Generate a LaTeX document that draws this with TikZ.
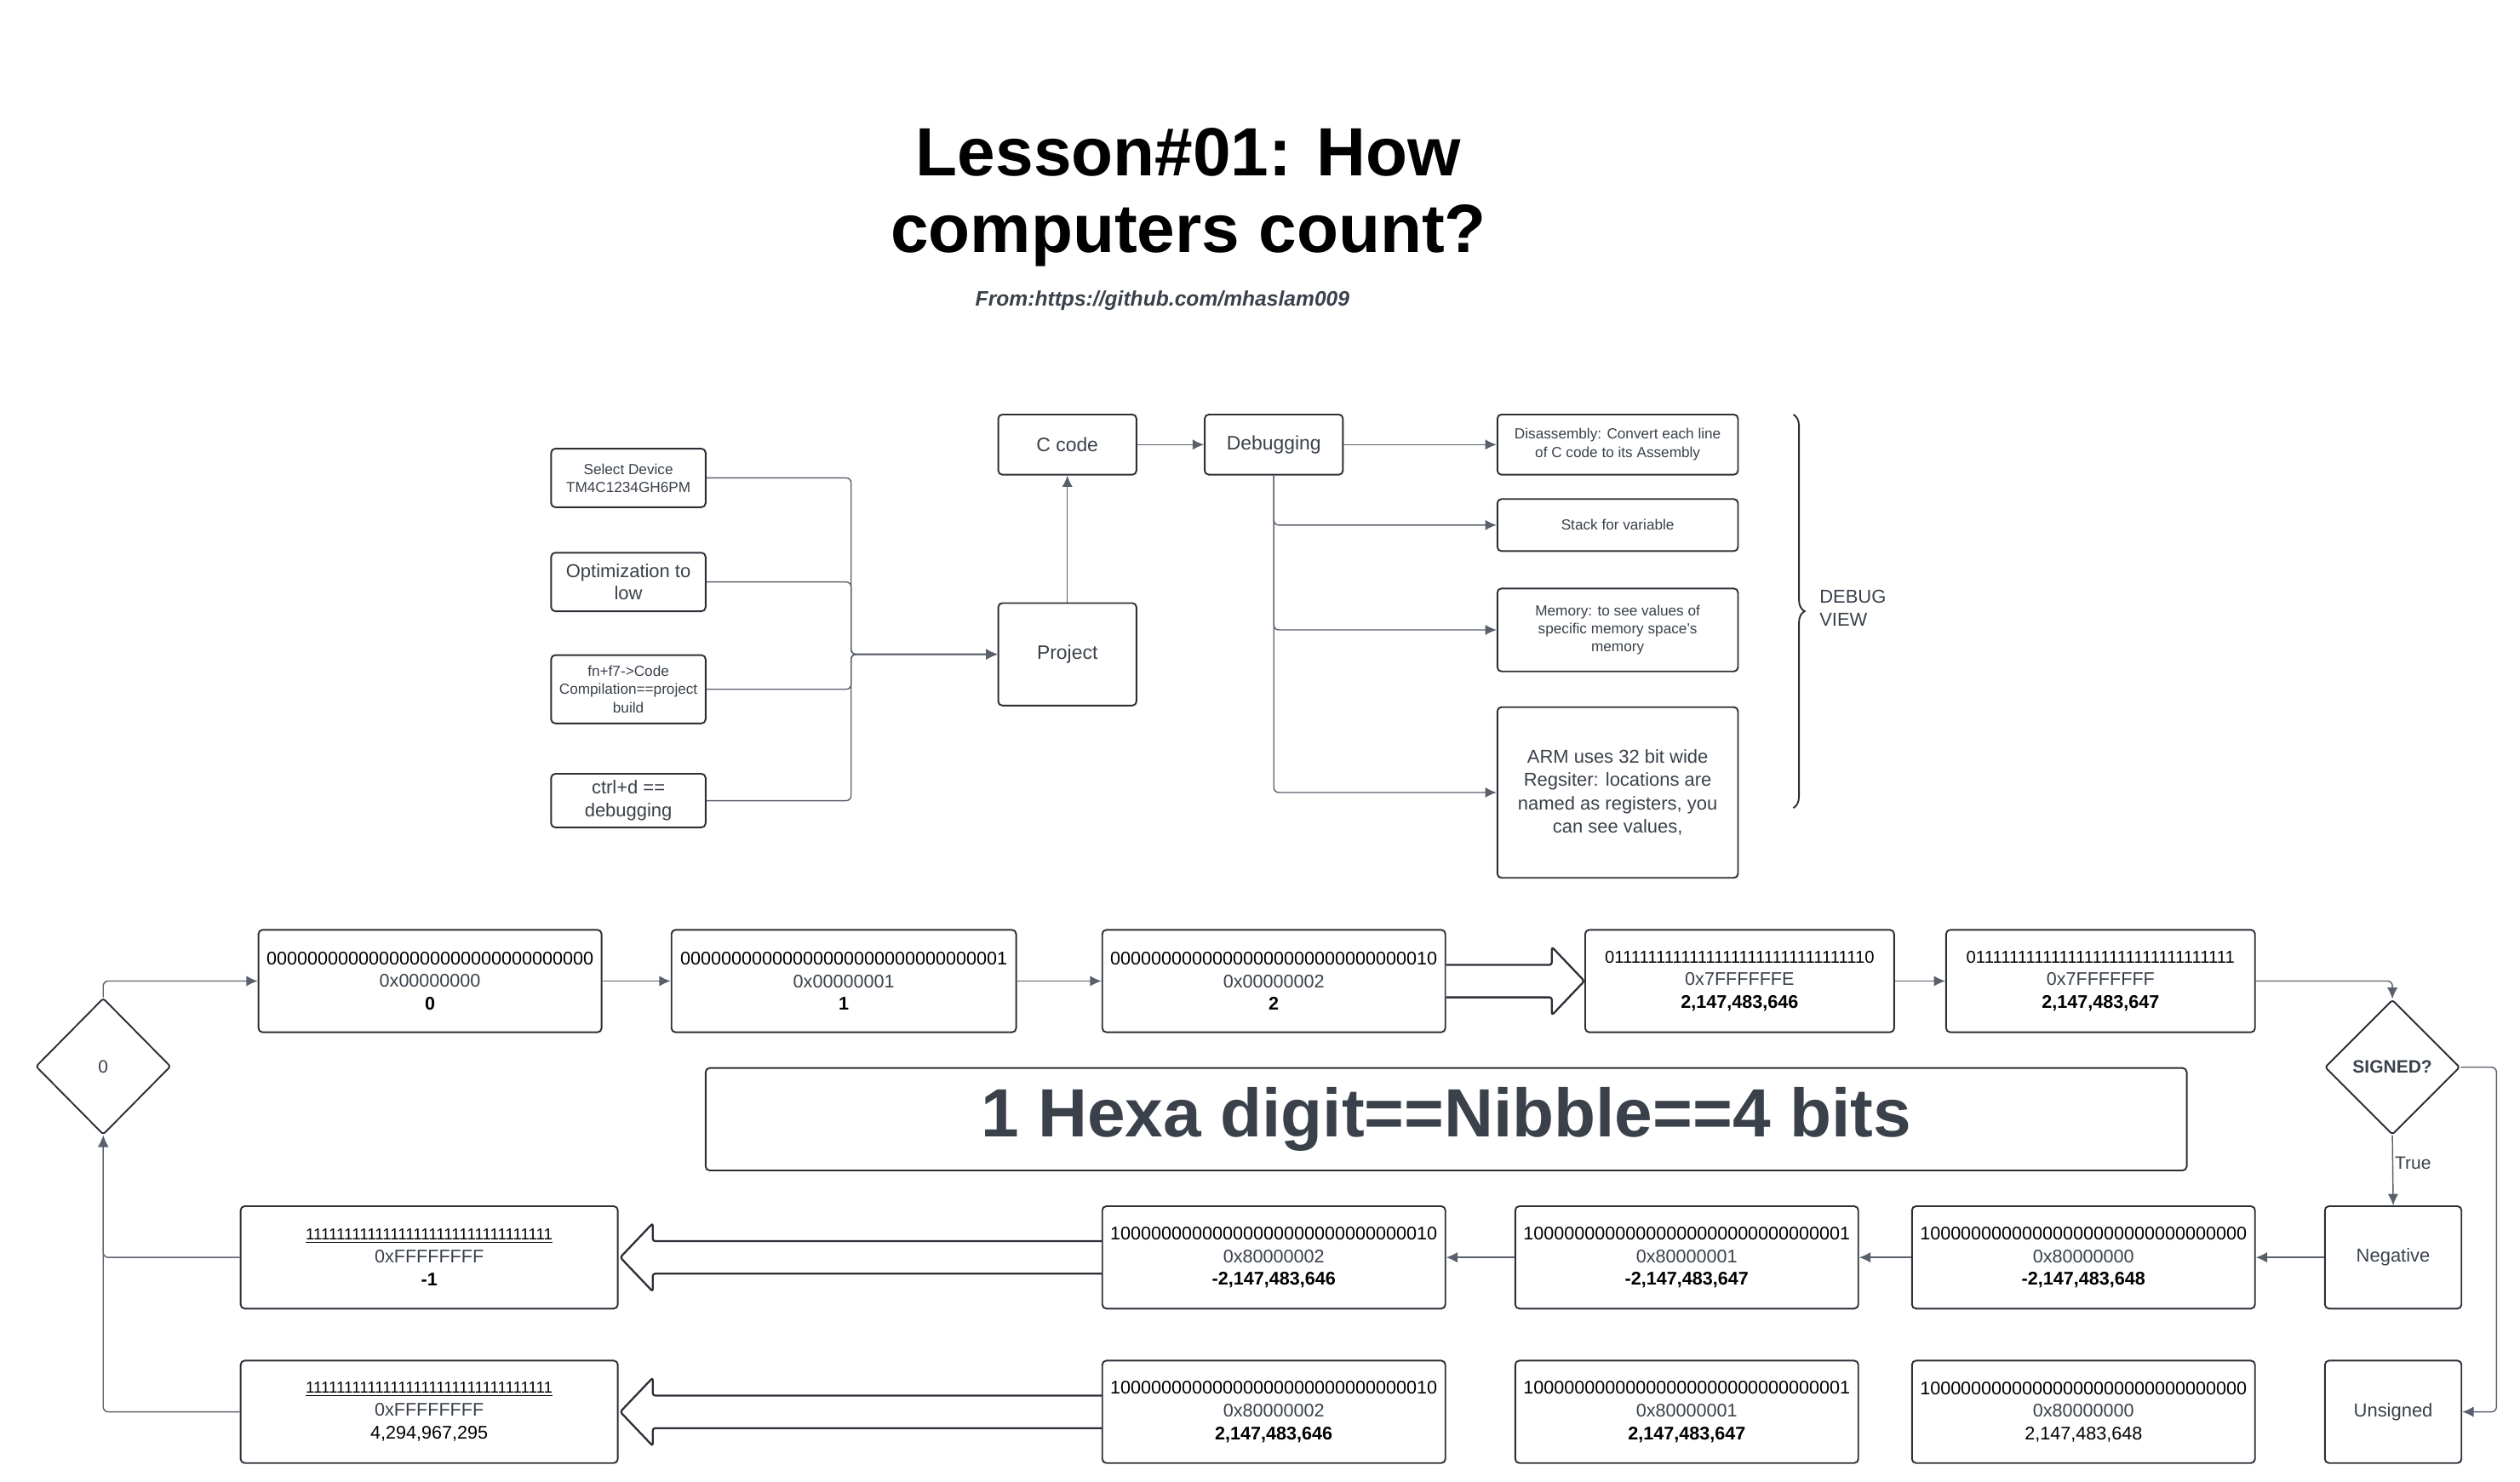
\documentclass[tikz,border=0pt]{standalone}
\usepackage{fontspec}
\setmainfont{Liberation Sans}
\usetikzlibrary{arrows.meta,shapes.geometric,calc,decorations.pathreplacing}
\definecolor{boxc}{HTML}{2B2F36}
\definecolor{linec}{HTML}{5A606B}
\definecolor{txt}{HTML}{3A414A}
\newcommand{\fs}[2]{\fontsize{#1}{#2}\selectfont}
\newcommand{\hexl}[1]{{\color{txt}#1}}
\begin{document}
\begin{tikzpicture}[x=1pt,y=-1pt,
  box/.style={draw=boxc, line width=1pt, rounded corners=2.5pt, fill=white, align=center, inner sep=0pt, text=txt},
  numbox/.style={draw=boxc, line width=1pt, rounded corners=2.5pt, fill=white, align=center, inner sep=0pt, text=black, minimum height=63pt, font=\fs{11.3}{14}},
  dia/.style={draw=boxc, line width=1pt, diamond, rounded corners=1.5pt, inner sep=0pt, minimum width=83pt, minimum height=84pt, text=txt, fill=white},
  conn/.style={draw=linec, line width=0.75pt, rounded corners=3pt, -{Latex[length=7pt,width=6.5pt]}},
  bigarr/.style={draw=boxc, line width=1.2pt, rounded corners=1.5pt, fill=white, line join=round}
]
\useasboundingbox (0,0) rectangle (1550,911.15);

% ---------- title ----------
\node[anchor=base, font=\bfseries\fs{42}{48}] (t1) at (731,108) {Lesson\#01: How};
\node[anchor=base, font=\bfseries\fs{42}{48}] (t2) at (731,155) {computers count?};
\node[anchor=base, font=\bfseries\itshape\fs{12.9}{15}, text=txt] (from) at (715,188) {From:https://github.com/mhaslam009};

% ---------- top flow ----------
\node[box, minimum width=95pt, minimum height=36pt, font=\fs{9}{11}] (sel) at (386.5,294) {Select Device\\TM4C1234GH6PM};
\node[box, minimum width=95pt, minimum height=36pt, font=\fs{11.5}{14}] (opt) at (386.5,358) {Optimization to\\low};
\node[box, minimum width=95pt, minimum height=42pt, font=\fs{9}{11.3}] (fn) at (386.5,424) {fn+f7->Code\\Compilation==project\\build};
\node[box, minimum width=95pt, minimum height=33pt, font=\fs{11.5}{14}] (ctrl) at (386.5,492.5) {ctrl+d ==\\debugging};
\node[box, minimum width=85pt, minimum height=63pt, font=\fs{12}{14}] (proj) at (656.5,402.5) {Project};
\node[box, minimum width=85pt, minimum height=37pt, font=\fs{12}{14}] (ccode) at (656.5,273.5) {C code};
\node[box, minimum width=85pt, minimum height=37pt, font=\fs{12}{14}] (dbg) at (783.5,273.5) {Debugging};
\node[box, minimum width=148pt, minimum height=37pt, font=\fs{9}{11.3}] (dis) at (995,273.5) {Disassembly: Convert each line\\of C code to its Assembly};
\node[box, minimum width=148pt, minimum height=32pt, font=\fs{9}{11.3}] (stack) at (995,323) {Stack for variable};
\node[box, minimum width=148pt, minimum height=51pt, font=\fs{9}{11}] (mem) at (995,387.5) {Memory: to see values of\\specific memory space's\\memory};
\node[box, minimum width=148pt, minimum height=105pt, font=\fs{11.5}{14.3}] (arm) at (995,487.5) {ARM uses 32 bit wide\\Regsiter: locations are\\named as registers, you\\can see values,};

\coordinate (jn) at ($(proj.west)+(-90,0)$);
\draw[conn] (sel.east) -| (jn) -- (proj.west);
\draw[conn] (opt.east) -| (jn) -- (proj.west);
\draw[conn] (fn.east) -| (jn) -- (proj.west);
\draw[conn] (ctrl.east) -| (jn) -- (proj.west);
\draw[conn] (proj.north) -- (ccode.south);
\draw[conn] (ccode.east) -- (dbg.west);
\draw[conn] (dbg.east) -- (dis.west);
\draw[conn] (dbg.south) |- (stack.west);
\draw[conn] (dbg.south) |- (mem.west);
\draw[conn] (dbg.south) |- (arm.west);

\draw[boxc, line width=1pt, decorate, decoration={brace, amplitude=7pt}] (1103,255) -- (1103,497);
\node[anchor=west, align=left, font=\fs{11.5}{14}, text=txt, inner sep=0pt] (dv) at (1119,374) {DEBUG\\VIEW};

% ---------- counting rows ----------
\node[numbox, minimum width=211pt] (B0) at (264.5,603.5) {00000000000000000000000000000000\\\hexl{0x00000000}\\\textbf{0}};
\node[numbox, minimum width=212pt] (B1) at (519,603.5) {00000000000000000000000000000001\\\hexl{0x00000001}\\\textbf{1}};
\node[numbox, minimum width=211pt] (B2) at (783.5,603.5) {00000000000000000000000000000010\\\hexl{0x00000002}\\\textbf{2}};
\node[numbox, minimum width=190pt] (B3) at (1070,603.5) {{\fs{10.6}{14}01111111111111111111111111111110}\\\hexl{0x7FFFFFFE}\\\textbf{2,147,483,646}};
\node[numbox, minimum width=190pt] (B4) at (1292,603.5) {{\fs{10.6}{14}01111111111111111111111111111111}\\\hexl{0x7FFFFFFF}\\\textbf{2,147,483,647}};

\node[dia, font=\fs{11}{13}] (d0) at (63.5,656) {0};
\node[dia, font=\bfseries\fs{11}{13}, minimum height=83pt] (sig) at (1471.5,656.5) {SIGNED?};

\node[box, minimum width=911pt, minimum height=63pt, font=\bfseries\fs{42}{48}] (nib) at (889.5,688.5) {1 Hexa digit==Nibble==4 bits};

\node[box, minimum width=84pt, minimum height=63pt, font=\fs{11.5}{14}] (neg) at (1472,773.5) {Negative};
\node[numbox, minimum width=211pt] (N0) at (1281.5,773.5) {10000000000000000000000000000000\\\hexl{0x80000000}\\\textbf{-2,147,483,648}};
\node[numbox, minimum width=211pt] (N1) at (1037.5,773.5) {10000000000000000000000000000001\\\hexl{0x80000001}\\\textbf{-2,147,483,647}};
\node[numbox, minimum width=211pt] (N2) at (783.5,773.5) {10000000000000000000000000000010\\\hexl{0x80000002}\\\textbf{-2,147,483,646}};
\node[numbox, minimum width=232pt] (M1) at (264,773.5) {{\fs{9.8}{14}\underline{11111111111111111111111111111111}}\\\hexl{0xFFFFFFFF}\\\textbf{-1}};

\node[box, minimum width=84pt, minimum height=63pt, font=\fs{11.5}{14}] (uns) at (1472,868.5) {Unsigned};
\node[numbox, minimum width=211pt] (U0) at (1281.5,868.5) {10000000000000000000000000000000\\\hexl{0x80000000}\\2,147,483,648};
\node[numbox, minimum width=211pt] (U1) at (1037.5,868.5) {10000000000000000000000000000001\\\hexl{0x80000001}\\\textbf{2,147,483,647}};
\node[numbox, minimum width=211pt] (U2) at (783.5,868.5) {10000000000000000000000000000010\\\hexl{0x80000002}\\\textbf{2,147,483,646}};
\node[numbox, minimum width=232pt] (M2) at (264,868.5) {{\fs{9.8}{14}\underline{11111111111111111111111111111111}}\\\hexl{0xFFFFFFFF}\\4,294,967,295};

% connectors
\draw[conn] (d0.north) |- (B0.west);
\draw[conn] (B0.east) -- (B1.west);
\draw[conn] (B1.east) -- (B2.west);
\draw[conn] (B3.east) -- (B4.west);
\draw[conn] (B4.east) -| (sig.north);
\draw[conn] (sig.south) -- node[pos=0.4, anchor=west, inner sep=1pt, font=\fs{11}{13}, text=txt] {True} (neg.north);
\draw[conn] (sig.east) -- ++(22,0) |- (uns.east);
\draw[conn] (neg.west) -- (N0.east);
\draw[conn] (N0.west) -- (N1.east);
\draw[conn] (N1.west) -- (N2.east);
\draw[conn] (M1.west) -| (d0.south);
\draw[conn] (M2.west) -| (d0.south);

% big block arrows
\draw[bigarr] ($(B2.east)+(0,-10)$) -- ($(B3.west)+(-20,-10)$) -- ($(B3.west)+(-20,-21)$) -- (B3.west) -- ($(B3.west)+(-20,21)$) -- ($(B3.west)+(-20,10)$) -- ($(B2.east)+(0,10)$);
\draw[bigarr] ($(N2.west)+(0,-10)$) -- ($(M1.east)+(21,-10)$) -- ($(M1.east)+(21,-21)$) -- ($(M1.east)+(1,0)$) -- ($(M1.east)+(21,21)$) -- ($(M1.east)+(21,10)$) -- ($(N2.west)+(0,10)$);
\draw[bigarr] ($(U2.west)+(0,-10)$) -- ($(M2.east)+(21,-10)$) -- ($(M2.east)+(21,-21)$) -- ($(M2.east)+(1,0)$) -- ($(M2.east)+(21,21)$) -- ($(M2.east)+(21,10)$) -- ($(U2.west)+(0,10)$);
\end{tikzpicture}
\end{document}
